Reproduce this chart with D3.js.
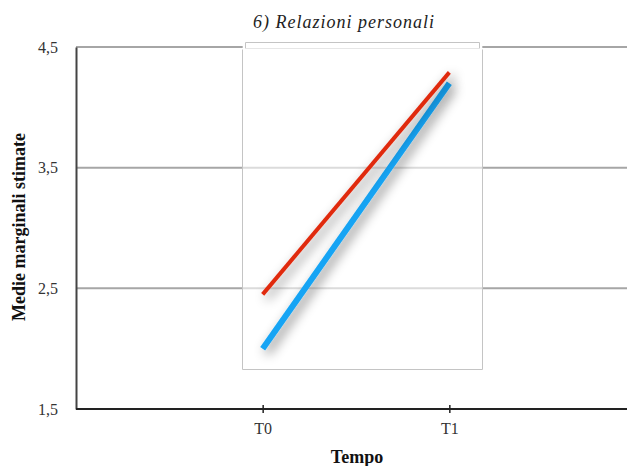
<!DOCTYPE html>
<html>
<head>
<meta charset="utf-8">
<script src="https://cdn.jsdelivr.net/npm/d3@7"></script>
<style>
  body { margin: 0; background: #fff; }
</style>
</head>
<body>
<div id="chart"></div>
<script>
// chart data
const categories = ["T0", "T1"];
const redValues = [2.45, 4.29];
const blueValues = [2.0, 4.2];
const yTicks = [1.5, 2.5, 3.5, 4.5];
const title = "6) Relazioni personali";

const width = 627, height = 466;
const serif = "'Liberation Serif', 'Times New Roman', 'DejaVu Serif', serif";

const x = d3.scalePoint().domain(categories).range([76, 636]).padding(1);
const y = d3.scaleLinear().domain([1.5, 4.5]).range([409, 47]);

const svg = d3.select("#chart").append("svg")
    .attr("width", width)
    .attr("height", height)
    .attr("font-family", serif);

const defs = svg.append("defs");
const shadow = defs.append("filter").attr("id", "shadow")
    .attr("x", "-30%").attr("y", "-30%").attr("width", "160%").attr("height", "160%");
shadow.append("feGaussianBlur").attr("in", "SourceAlpha").attr("stdDeviation", 6).attr("result", "blur");
shadow.append("feOffset").attr("dx", 4).attr("dy", 4).attr("result", "off");
shadow.append("feComponentTransfer").append("feFuncA").attr("type", "linear").attr("slope", 0.5);
const merge = shadow.append("feMerge");
merge.append("feMergeNode");
merge.append("feMergeNode").attr("in", "SourceGraphic");

// gridlines
svg.append("g")
    .selectAll("line")
    .data(yTicks.filter(d => d > 1.5))
    .enter().append("line")
    .attr("x1", 76).attr("x2", width)
    .attr("y1", d => y(d)).attr("y2", d => y(d))
    .attr("stroke", "#a6a6a6")
    .attr("stroke-width", 2);

// the pasted overlay box
svg.append("rect")
    .attr("x", 242.5).attr("y", 46)
    .attr("width", 240).attr("height", 323.5)
    .attr("fill", "#fff").attr("fill-opacity", 0.6);
svg.append("rect")
    .attr("x", 243).attr("y", 43)
    .attr("width", 239).attr("height", 7)
    .attr("fill", "#fff");
svg.append("path")
    .attr("d", "M245.5,48.5V42.5H479.5V48.5")
    .attr("fill", "none")
    .attr("stroke", "#c4c4c4");
svg.append("path")
    .attr("d", "M242.5,49.5V369.5H482.5V49.5")
    .attr("fill", "none")
    .attr("stroke", "#c4c4c4");
svg.append("path")
    .attr("d", "M245.5,48.5H479.5")
    .attr("fill", "none")
    .attr("stroke", "#e6e6e6");

// y axis
const yAxis = svg.append("g")
    .attr("transform", "translate(76,0)")
    .call(d3.axisLeft(y).tickValues(yTicks).tickSize(0).tickPadding(18)
        .tickFormat(d => d3.format(".1f")(d).replace(".", ",")));
yAxis.attr("font-family", serif);
yAxis.select(".domain").attr("stroke", "#444").attr("stroke-width", 2);
yAxis.selectAll("text").style("font-size", "16px").attr("fill", "#333");

// x axis
const xAxis = svg.append("g")
    .attr("transform", "translate(0,409)")
    .call(d3.axisBottom(x).tickSize(0).tickPadding(14));
xAxis.attr("font-family", serif);
xAxis.select(".domain").attr("d", `M76,0H${width}`).attr("stroke", "#222").attr("stroke-width", 2);
xAxis.selectAll("text").style("font-size", "16px").attr("fill", "#333");
xAxis.selectAll(".tick").append("line")
    .attr("y1", -4).attr("y2", 4)
    .attr("stroke", "#222").attr("stroke-width", 1.5);

// series lines
const line = d3.line().x((d, i) => x(categories[i])).y(d => y(d));
svg.append("path")
    .datum(blueValues)
    .attr("d", line)
    .attr("fill", "none")
    .attr("stroke", "#14a4f4")
    .attr("stroke-width", 6)
    .attr("filter", "url(#shadow)");
svg.append("path")
    .datum(redValues)
    .attr("d", line)
    .attr("fill", "none")
    .attr("stroke", "#e02a10")
    .attr("stroke-width", 4)
    .attr("filter", "url(#shadow)");

// titles
svg.append("text")
    .attr("x", 344).attr("y", 28)
    .attr("text-anchor", "middle")
    .style("font-size", "18px")
    .style("font-style", "italic")
    .style("letter-spacing", "1px")
    .attr("fill", "#222")
    .text(title);

svg.append("text")
    .attr("transform", "translate(25,227) rotate(-90)")
    .attr("text-anchor", "middle")
    .style("font-size", "18px")
    .style("font-weight", "bold")
    .attr("fill", "#111")
    .text("Medie marginali stimate");

svg.append("text")
    .attr("x", 357).attr("y", 463)
    .attr("text-anchor", "middle")
    .style("font-size", "18px")
    .style("font-weight", "bold")
    .attr("fill", "#111")
    .text("Tempo");
</script>
</body>
</html>
